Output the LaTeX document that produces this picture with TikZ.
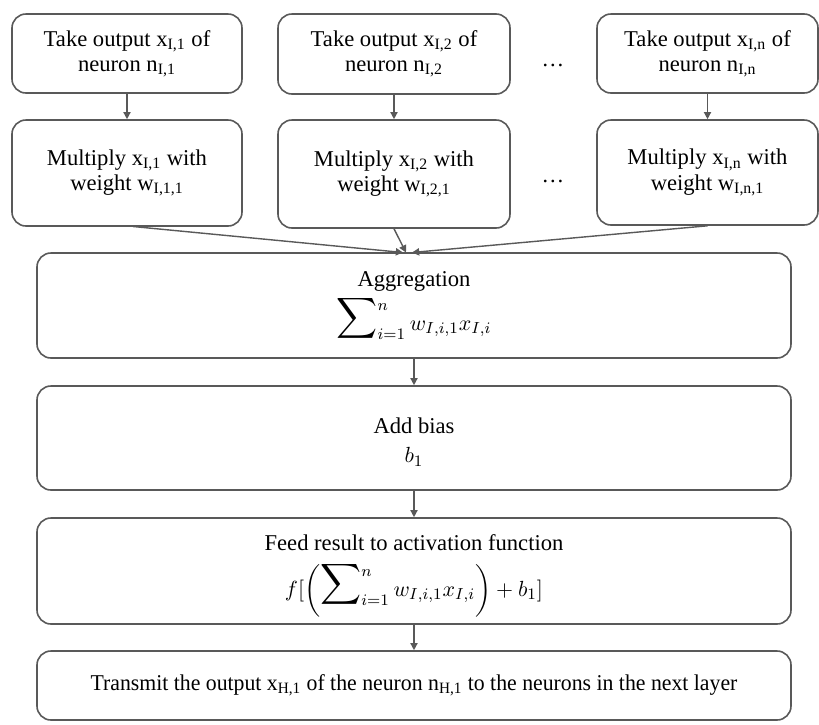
\documentclass[tikz,border=0pt]{standalone}
\usepackage{amsmath}
\usepackage{fontspec}
\setmainfont{Liberation Serif}
\usetikzlibrary{arrows.meta}
\definecolor{edge}{HTML}{595959}
\newcommand{\bigsum}{\mathop{\raisebox{2.5pt}[13pt][4pt]{\scalebox{1.3}{$\displaystyle\sum$}}}\nolimits}
\tikzset{
  box/.style={draw=edge, line width=0.8pt, rounded corners=7pt, inner sep=0pt,
    align=center, font=\rmfamily\fontsize{11.3}{12.6}\selectfont},
  conn/.style={draw=edge, line width=0.7pt, -{Triangle[width=3.6pt,length=3.6pt]}},
  dotsnode/.style={inner sep=0pt, font=\rmfamily\fontsize{11.3}{12.6}\selectfont}
}
\begin{document}
\begin{tikzpicture}[x=0.5pt,y=-0.5pt]
\useasboundingbox (0,0) rectangle (819,724);
% top row
\node[box, minimum width=115pt, minimum height=39.5pt] (t1) at (127,53.5)
  {Take output x\textsubscript{I,1} of\\neuron n\textsubscript{I,1}};
\node[box, minimum width=116pt, minimum height=40pt] (t2) at (394,54)
  {Take output x\textsubscript{I,2} of\\neuron n\textsubscript{I,2}};
\node[box, minimum width=110.5pt, minimum height=39.5pt] (t3) at (707.5,53.5)
  {Take output x\textsubscript{I,n} of\\neuron n\textsubscript{I,n}};
\node[dotsnode] (d1) at (553,65) {\dots};
% second row
\node[box, minimum width=115pt, minimum height=53pt] (m1) at (127,173)
  {Multiply x\textsubscript{I,1} with\\weight w\textsubscript{I,1,1}};
\node[box, minimum width=116pt, minimum height=54pt] (m2) at (394,174)
  {Multiply x\textsubscript{I,2} with\\weight w\textsubscript{I,2,1}};
\node[box, minimum width=110.5pt, minimum height=52.5pt] (m3) at (707.5,172.5)
  {Multiply x\textsubscript{I,n} with\\weight w\textsubscript{I,n,1}};
\node[dotsnode] (d2) at (553,181) {\dots};
% column
\node[box, minimum width=377pt, minimum height=52.5pt] (agg) at (414,305.5)
  {Aggregation\\[5pt]$\bigsum_{i=1}^{n} w_{I,i,1}x_{I,i}$};
\node[box, minimum width=377pt, minimum height=52pt] (bias) at (414,438)
  {\rule{0pt}{12pt}Add bias\\[2pt]$b_1$};
\node[box, minimum width=377pt, minimum height=53pt] (feed) at (414,571)
  {\rule{0pt}{13pt}Feed result to activation function\\[6pt]$\displaystyle f[\biggl(\bigsum_{i=1}^{n} w_{I,i,1}x_{I,i}\biggr)+b_1]$};
\node[box, minimum width=377pt, minimum height=34.5pt] (trans) at (414,685.5)
  {\scalebox{0.963}[1]{Transmit the output x\textsubscript{H,1} of the neuron n\textsubscript{H,1} to the neurons in the next layer}};
% arrow endpoints on aggregation box
\coordinate (a1) at (403,252.5);
\coordinate (a2) at (406,252.5);
\coordinate (a3) at (412,252.5);
\coordinate (s1) at (133,226.5);
% connectors
\draw[conn] (t1) -- (m1);
\draw[conn] (t2) -- (m2);
\draw[conn] (t3) -- (m3);
\draw[conn] (s1) -- (a1);
\draw[conn] (m2.south) -- (a2);
\draw[conn] (m3.south) -- (a3);
\draw[conn] (agg) -- (bias);
\draw[conn] (bias) -- (feed);
\draw[conn] (feed) -- (trans);
\end{tikzpicture}
\end{document}
